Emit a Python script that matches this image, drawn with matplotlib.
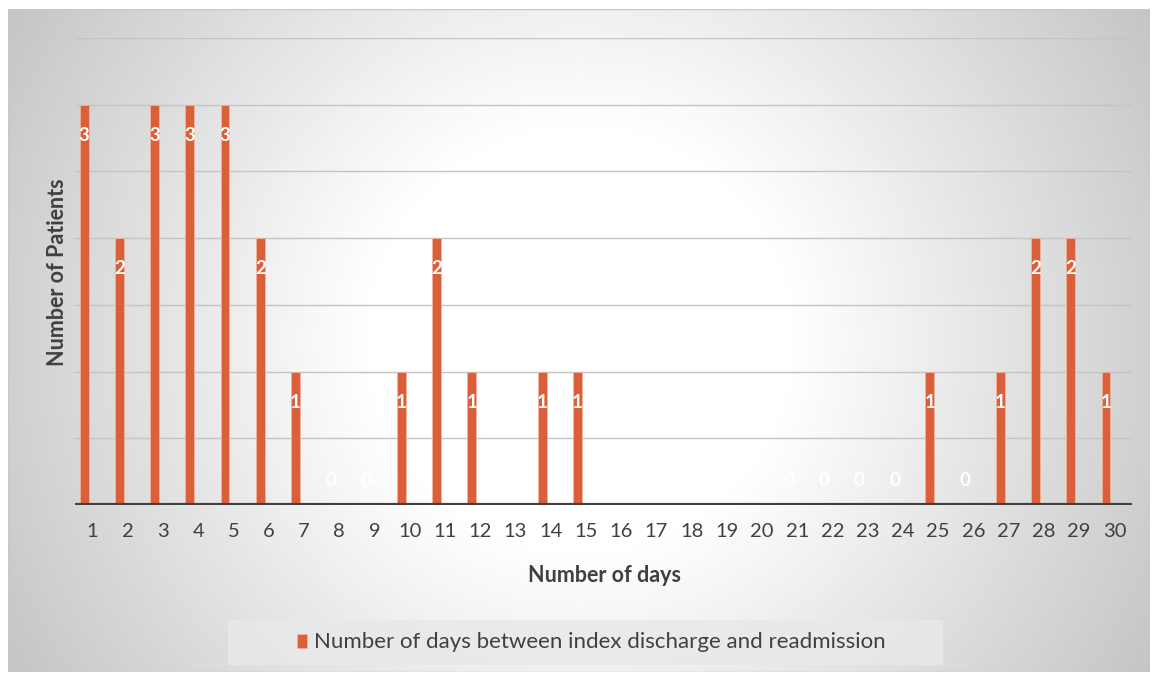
import numpy as np
import matplotlib
matplotlib.use("Agg")
import matplotlib.pyplot as plt
from matplotlib.patches import Rectangle

days = list(range(1, 31))
patients = [3, 2, 3, 3, 3, 2, 1, 0, 0, 1, 2, 1, 0, 1, 1,
            0, 0, 0, 0, 0, 0, 0, 0, 0, 1, 0, 1, 2, 2, 1]
series_name = "Number of days between index discharge and readmission"
x_title = "Number of days"
y_title = "Number of Patients"

BAR = "#D9603A"
TEXT = "#404040"
W, H = 1155, 675

plt.rcParams["font.family"] = ["Lato", "DejaVu Sans"]

fig = plt.figure(figsize=(W / 100, H / 100), dpi=100)
fig.patch.set_facecolor("white")

# framed background with a soft radial gradient (white centre, grey edges)
fx0, fy0, fx1, fy1 = 8, 9, 1150, 672
bg = fig.add_axes([fx0 / W, 1 - fy1 / H, (fx1 - fx0) / W, (fy1 - fy0) / H], zorder=-5)
gx = np.linspace(fx0, fx1, 700)
gy = np.linspace(fy0, fy1, 420)
X, Y = np.meshgrid(gx, gy)
dist = np.hypot(X - 580, Y - 340)
v = 255 - 0.13 * np.clip(dist - 215, 0, None)
v = np.clip(v, 195, 255)
img = np.dstack([v, v, v]) / 255.0
bg.imshow(img, aspect="auto", extent=[0, 1, 0, 1], interpolation="bilinear")
bg.set_axis_off()
bg.add_patch(Rectangle((0, 0), 1, 1, transform=bg.transAxes, fill=False,
                       edgecolor="#c8c8c8", linewidth=1.0))

# plot area
px0, px1, py_top, py_bot = 75, 1132, 38, 505
ax = fig.add_axes([px0 / W, 1 - py_bot / H, (px1 - px0) / W, (py_bot - py_top) / H])
ax.set_facecolor("none")
ax.set_xlim(0.5, 30.5)
ax.set_ylim(0, 3.5)

for gyv in np.arange(0.5, 3.51, 0.5):
    ax.axhline(gyv, color="#c4c4c4", linewidth=1.0, zorder=1)

xs = np.array(days) - 0.24
ax.bar(xs, patients, width=0.25, color=BAR, edgecolor="#f2b39c",
       linewidth=0.6, zorder=3)

for xv, val in zip(xs, patients):
    if val > 0:
        ax.annotate(str(val), (xv, val), xytext=(0, -22), textcoords="offset points",
                    ha="center", va="center", color="white", fontsize=13.5,
                    fontweight="bold", zorder=4)
    else:
        ax.annotate(str(val), (xv, 0), xytext=(0, 18), textcoords="offset points",
                    ha="center", va="center", color="white", fontsize=13.5,
                    fontweight="bold", zorder=4)

ax.axhline(0, color="#404040", linewidth=3, zorder=5)

ax.set_xticks(days)
ax.set_xticklabels([str(d) for d in days], fontsize=14.5, color=TEXT)
ax.tick_params(axis="x", length=0, pad=13)
ax.set_yticks([])
for s in ax.spines.values():
    s.set_visible(False)

fig.text(605 / W, 1 - 575 / H, x_title, ha="center", va="center",
         fontsize=15.5, fontweight="bold", color=TEXT)
fig.text(58 / W, 1 - 272 / H, y_title, ha="center", va="center", rotation=90,
         fontsize=15.5, fontweight="bold", color=TEXT)

# legend box
lx0, ly0, lx1, ly1 = 228, 620, 943, 665
fig.patches.append(Rectangle((lx0 / W, 1 - ly1 / H), (lx1 - lx0) / W, (ly1 - ly0) / H,
                             transform=fig.transFigure, facecolor="#e9e9e9",
                             alpha=0.85, edgecolor="none", zorder=1))
fig.patches.append(Rectangle((297 / W, 1 - 648 / H), 10 / W, 14 / H,
                             transform=fig.transFigure, facecolor=BAR,
                             edgecolor="#f2b39c", linewidth=0.6, zorder=2))
fig.text(314 / W, 1 - 642 / H, series_name, ha="left", va="center",
         fontsize=16, color=TEXT)

fig.savefig("out.png", dpi=100)
